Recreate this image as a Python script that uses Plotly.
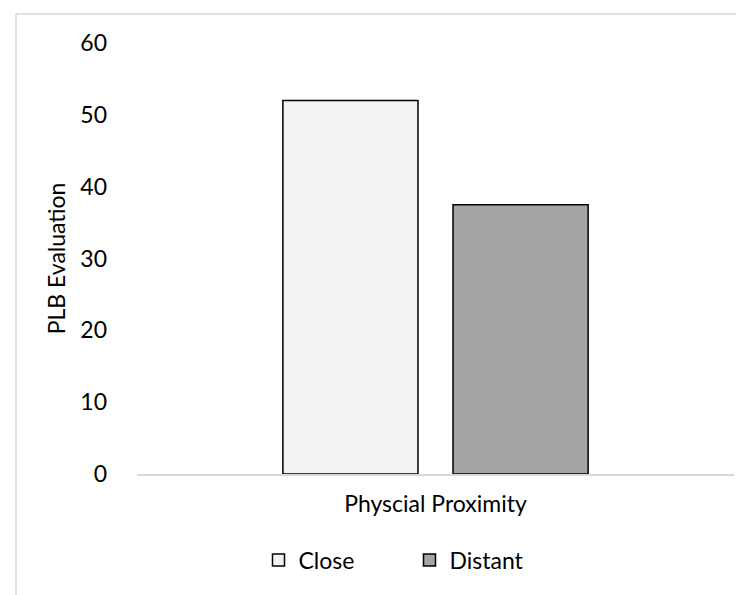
import plotly.graph_objects as go

categories = ["Physcial Proximity"]
series_names = ["Close", "Distant"]
close_values = [52]
distant_values = [37.5]
y_ticks = [0, 10, 20, 30, 40, 50, 60]

FONT = "Lato"
FS = 23
W, H = 744, 595
L, R, T, B = 129, 18, 35, 129
pw, ph = W - L - R, H - T - B

fig = go.Figure()
fig.add_trace(go.Bar(name=series_names[0], x=categories, y=close_values,
                     marker=dict(color="#F2F2F2", line=dict(color="#000000", width=1.5))))
fig.add_trace(go.Bar(name=series_names[1], x=categories, y=distant_values,
                     marker=dict(color="#A5A5A5", line=dict(color="#000000", width=1.5))))

fig.update_layout(
    width=W, height=H,
    margin=dict(l=L, r=R, t=T, b=B, autoexpand=False),
    paper_bgcolor="white", plot_bgcolor="white",
    font=dict(family=FONT, size=FS, color="#000000"),
    barmode="group", bargap=0.43, bargroupgap=0.206,
    showlegend=True,
    legend=dict(orientation="h", x=0.5 - 26 / pw, xanchor="center", y=(466 - 552) / ph,
                yanchor="middle", font=dict(family=FONT, size=FS),
                bgcolor="rgba(0,0,0,0)", traceorder="normal", entrywidth=106),
    xaxis=dict(showgrid=False, showline=True, linecolor="#D9D9D9", linewidth=1.5,
               ticks="", tickfont=dict(family=FONT, size=FS), ticklabelstandoff=9,
               zeroline=False),
    yaxis=dict(range=[0, 60], tickvals=y_ticks, showgrid=False, showline=False, zeroline=False,
               ticks="", ticklabelstandoff=29, tickfont=dict(family=FONT, size=FS),
               title=dict(text="PLB Evaluation", font=dict(family=FONT, size=FS), standoff=8)),
    shapes=[dict(type="rect", xref="paper", yref="paper",
                 x0=(8 - L) / pw, x1=(W + 10 - L) / pw,
                 y0=-(H + 10 - (H - B)) / ph, y1=(H - B - 6) / ph,
                 line=dict(color="#D9D9D9", width=1.5), fillcolor="rgba(0,0,0,0)", layer="below")],
)

fig.write_html("out.html")
